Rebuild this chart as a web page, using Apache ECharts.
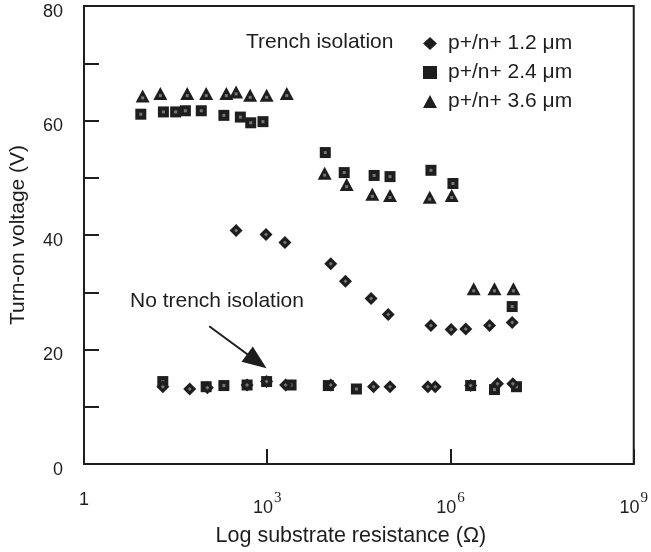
<!DOCTYPE html>
<html>
<head>
<meta charset="utf-8">
<script src="https://cdn.jsdelivr.net/npm/echarts@6/dist/echarts.min.js"></script>
<style>
  html, body { margin: 0; padding: 0; background: #fff; }
  #chart { width: 651px; height: 552px; }
</style>
</head>
<body>
<div id="chart"></div>
<script>
// Turn-on voltage versus substrate resistance.
// x values are log10 of the substrate resistance (Ω), y values are volts.
const FONT = '"Liberation Sans", Arial, Helvetica, sans-serif';
const INK = '#1e1e1e';

const xTickExponents = [0, 3, 6, 9];
const yTickLabels = [0, 20, 40, 60, 80];

const seriesNames = ['p+/n+ 1.2 \u03bcm', 'p+/n+ 2.4 \u03bcm', 'p+/n+ 3.6 \u03bcm'];

// p+/n+ 1.2 µm (diamonds)
const logR12 = [2.49, 2.98, 3.29, 4.04, 4.28, 4.70, 4.98,
                5.68, 6.01, 6.25, 6.64, 7.01,
                1.29, 1.73, 2.02, 2.67, 2.99, 3.30, 4.04, 4.74, 5.01, 5.63, 5.75, 6.33, 6.77, 7.02];
const volt12 = [40.8, 40.1, 38.7, 35.0, 31.9, 28.9, 26.1,
                24.2, 23.5, 23.6, 24.2, 24.7,
                13.5, 13.1, 13.3, 13.8, 14.4, 13.8, 13.8, 13.5, 13.5, 13.5, 13.5, 13.7, 14.0, 14.0];

// p+/n+ 2.4 µm (squares)
const logR24 = [0.93, 1.30, 1.50, 1.66, 1.92, 2.29, 2.56, 2.73, 2.93,
                3.95, 4.26, 4.75, 5.01, 5.68, 6.04, 7.01,
                1.29, 2.00, 2.29, 2.67, 2.99, 3.39, 4.00, 4.46, 6.33, 6.72, 7.08];
const volt24 = [61.1, 61.5, 61.5, 61.7, 61.7, 60.9, 60.6, 59.6, 59.8,
                54.4, 50.9, 50.4, 50.2, 51.3, 49.0, 27.5,
                14.4, 13.5, 13.7, 13.8, 14.4, 13.8, 13.7, 13.1, 13.7, 13.0, 13.5];

// p+/n+ 3.6 µm (triangles)
const logR36 = [0.96, 1.25, 1.69, 2.00, 2.33, 2.49, 2.72, 2.99, 3.32,
                3.94, 4.30, 4.72, 5.01, 5.66, 6.02,
                6.38, 6.72, 7.03];
const volt36 = [64.3, 64.7, 64.7, 64.7, 64.7, 65.0, 64.4, 64.4, 64.7,
                50.8, 48.8, 47.1, 46.9, 46.6, 46.9,
                30.6, 30.6, 30.6];

// Arrow pointing at the un-isolated devices: [logR, V] tail and head centre
const arrowFrom = [2.05, 24.05];
const arrowTo = [2.83, 17.95];

function pairs(xs, ys) { return xs.map((x, i) => [x, ys[i]]); }

const groups = [
  { name: seriesNames[1], data: pairs(logR24, volt24), symbol: 'rect', size: 11, dot: 3 },
  { name: seriesNames[0], data: pairs(logR12, volt12), symbol: 'diamond', size: 13, dot: 4 },
  { name: seriesNames[2], data: pairs(logR36, volt36), symbol: 'triangle', size: [14, 13], dot: 3 }
];

const series = [];
groups.forEach((g, k) => {
  series.push({
    type: 'scatter', name: g.name, data: g.data,
    symbol: g.symbol, symbolSize: g.size,
    itemStyle: { color: INK, opacity: 1 },
    z: 2 + k * 2
  });
  // grey centre speck on every marker
  series.push({
    type: 'scatter', name: g.name + ' centre', data: g.data,
    symbol: g.symbol === 'triangle' ? 'rect' : g.symbol,
    symbolSize: g.dot,
    symbolOffset: g.symbol === 'triangle' ? [0, 2] : [0, 0],
    itemStyle: { color: '#8c8c8c' },
    silent: true,
    z: 3 + k * 2
  });
});

series.push({
  type: 'line', name: 'arrow', data: [],
  silent: true,
  markLine: {
    silent: true,
    symbol: ['none', 'triangle'],
    symbolSize: [19, 24],
    lineStyle: { color: INK, width: 2, type: 'solid' },
    itemStyle: { color: INK },
    label: { show: false },
    data: [[{ coord: arrowFrom }, { coord: arrowTo }]]
  }
});

const chart = echarts.init(document.getElementById('chart'), null, { renderer: 'canvas' });
chart.setOption({
  animation: false,
  backgroundColor: '#fff',
  textStyle: { fontFamily: FONT },
  grid: {
    left: 84, right: 14, top: 6, bottom: 87,
    show: true, borderColor: INK, borderWidth: 2, backgroundColor: 'transparent'
  },
  xAxis: {
    type: 'value', min: xTickExponents[0], max: xTickExponents[xTickExponents.length - 1], interval: 3,
    name: 'Log substrate resistance (\u03a9)',
    nameLocation: 'middle', nameGap: 61,
    nameTextStyle: { fontSize: 21.5, color: INK, fontFamily: FONT, padding: [0, 16, 0, 0] },
    axisLine: { show: true, lineStyle: { color: INK, width: 2 } },
    axisTick: { show: true, inside: true, length: 15, lineStyle: { color: INK, width: 2 } },
    splitLine: { show: false },
    axisLabel: {
      margin: 27, color: INK, fontSize: 18, fontFamily: FONT,
      formatter: function (v) {
        if (xTickExponents.indexOf(v) < 0) return '';
        return v === 0 ? '{b|1}' : '{b|10}{sup|' + v + '}';
      },
      rich: {
        b: { fontSize: 18, fontFamily: FONT, color: INK, verticalAlign: 'bottom' },
        sup: { fontSize: 15, fontFamily: '"Liberation Serif", "Times New Roman", serif', color: INK,
               verticalAlign: 'bottom', padding: [0, 0, 11, 1] }
      }
    }
  },
  yAxis: {
    type: 'value', min: 0, max: 80, interval: 10,
    name: 'Turn-on voltage (V)',
    nameLocation: 'middle', nameGap: 55, nameRotate: 90,
    nameTextStyle: { fontSize: 21, color: INK, fontFamily: FONT },
    axisLine: { show: true, lineStyle: { color: INK, width: 2 } },
    axisTick: { show: true, inside: true, length: 15, lineStyle: { color: INK, width: 2 } },
    splitLine: { show: false },
    axisLabel: {
      margin: 21, color: INK, fontSize: 18, fontFamily: FONT,
      verticalAlign: 'top', lineHeight: 12,
      formatter: function (v) { return yTickLabels.indexOf(v) >= 0 ? String(v) : ''; }
    }
  },
  legend: {
    orient: 'vertical', left: 418, top: 28,
    itemWidth: 14, itemHeight: 13, itemGap: 8,
    textStyle: { fontSize: 21, color: INK, fontFamily: FONT, lineHeight: 19, padding: [0, 0, 0, 6] },
    data: [seriesNames[0], seriesNames[1], seriesNames[2]]
  },
  graphic: [
    { type: 'text', x: 246, y: 42, silent: true,
      style: { text: 'Trench isolation', fontSize: 21, fontFamily: FONT, fill: INK, verticalAlign: 'middle' } },
    { type: 'text', x: 130, y: 301, silent: true,
      style: { text: 'No trench isolation', fontSize: 21, fontFamily: FONT, fill: INK, verticalAlign: 'middle' } }
  ],
  series: series
});
</script>
</body>
</html>
